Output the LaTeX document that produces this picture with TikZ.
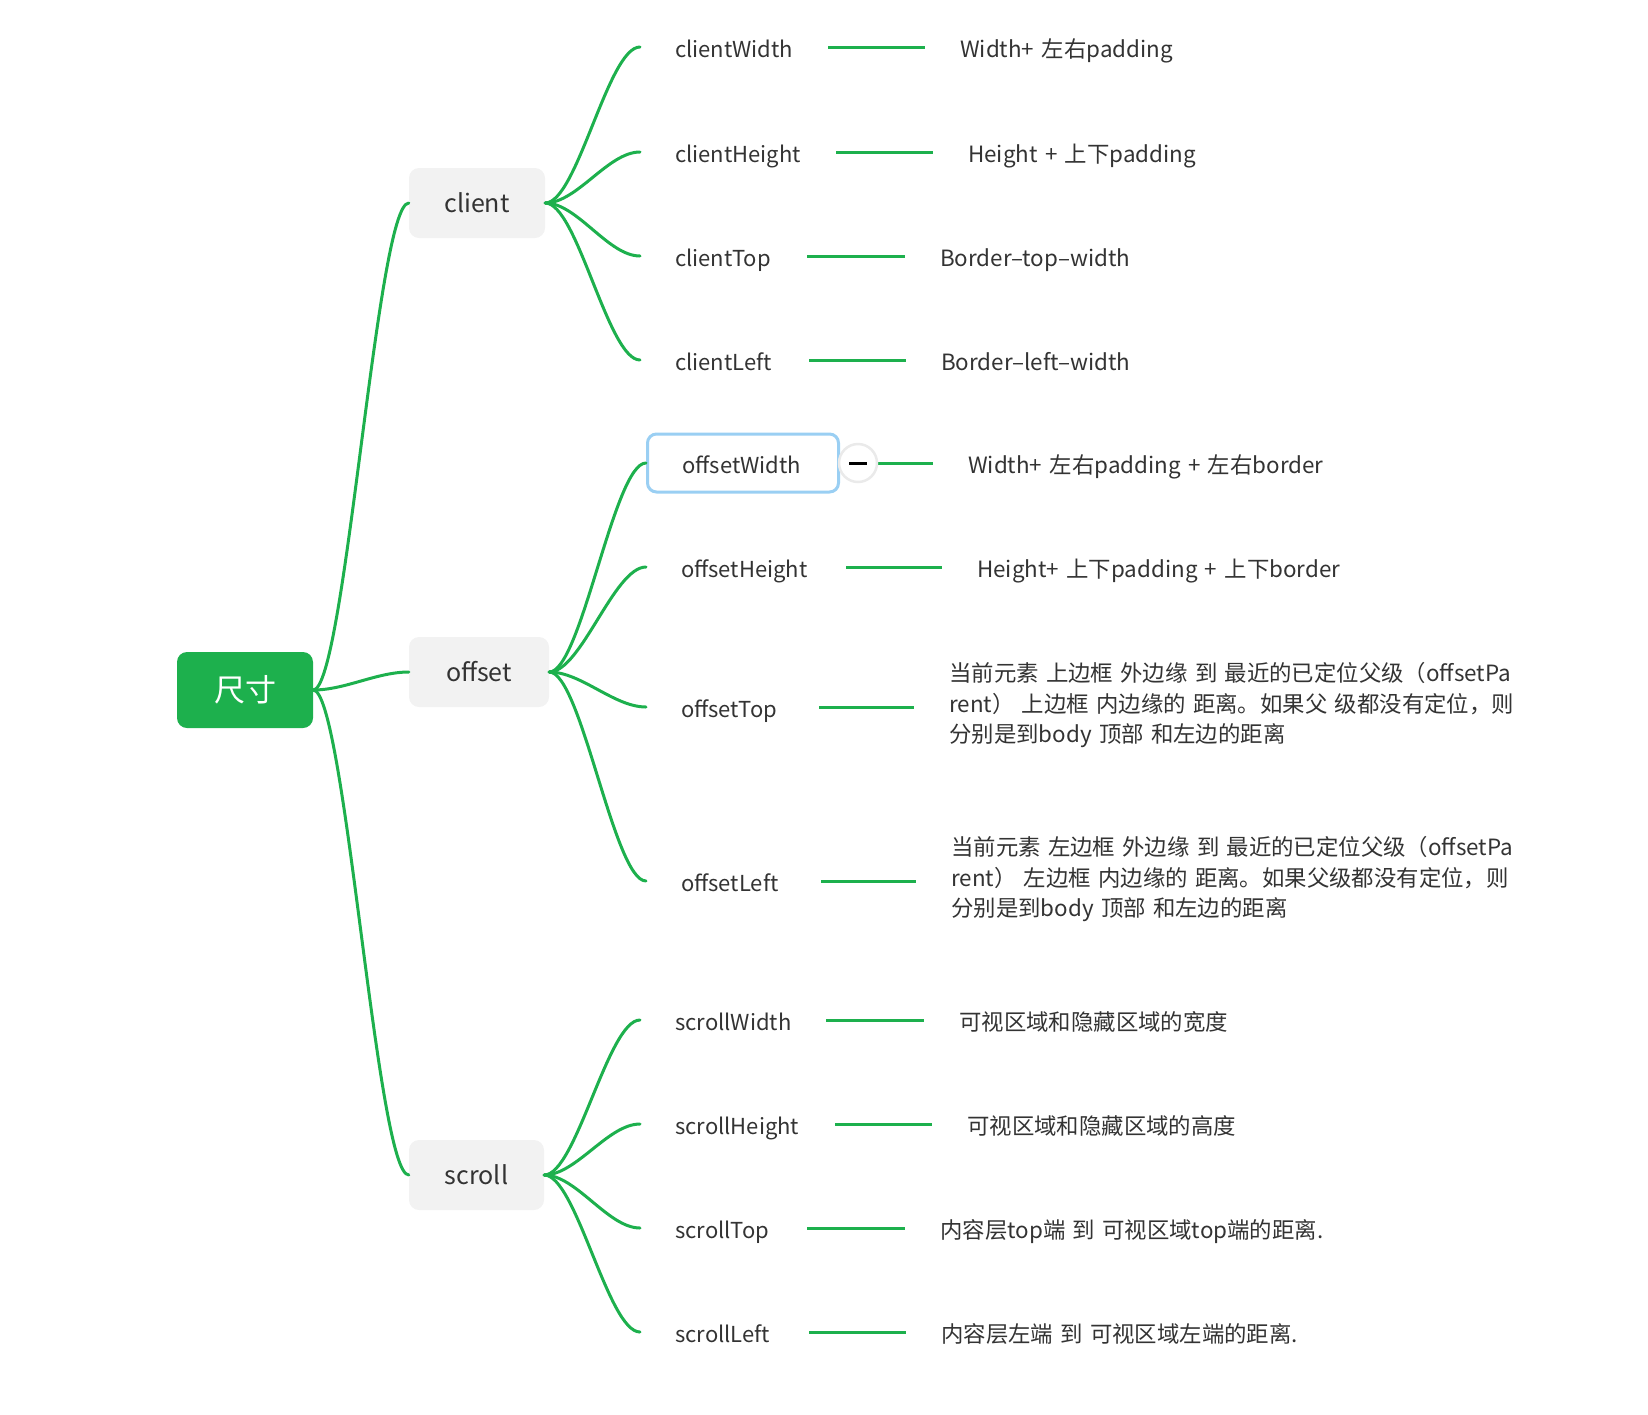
\documentclass[tikz,border=0pt]{standalone}
\usepackage{fontspec}
\setmainfont[WordSpace=1.45]{Noto Sans CJK SC}
\definecolor{mmgreen}{HTML}{1DB04D}
\definecolor{boxgrey}{HTML}{F2F2F2}
\definecolor{txt}{HTML}{333333}
\definecolor{selblue}{HTML}{9ACFF3}
\definecolor{btngrey}{HTML}{EAEAEA}
\tikzset{
  x=1pt, y=-1pt,
  rootbox/.style={fill=mmgreen, rounded corners=10pt, minimum width=136pt, minimum height=76pt,
    text=white, font=\fontsize{31}{36}\selectfont, inner sep=0pt},
  catbox/.style={fill=boxgrey, rounded corners=10pt, minimum height=70pt,
    text=txt, font=\fontsize{25}{30}\selectfont, inner sep=0pt},
  leaf/.style={anchor=west, inner xsep=35pt, inner ysep=0pt, minimum height=30pt, align=left,
    text height=22.5pt, text depth=1.5pt,
    text=txt, font=\fontsize{22}{30.5}\selectfont},
  val/.style={anchor=west, inner xsep=35pt, inner ysep=0pt, align=left,
    text height=22.5pt, text depth=1.5pt,
    text=txt, font=\fontsize{22.4}{30.5}\selectfont},
  multival/.style={anchor=west, inner xsep=35pt, inner ysep=0pt, align=left,
    text=txt, font=\fontsize{22.4}{30.5}\selectfont},
  conn/.style={draw=mmgreen, line width=3pt},
  curv/.style={conn, line cap=round},
}
\newcommand{\mmcurve}[2]{\draw[curv] (#1.east) .. controls +(32,0) and +(-32,0) .. (#2.west);}
\begin{document}
\begin{tikzpicture}
\useasboundingbox (0,0) rectangle (1648,1414);
% root and categories
\node[rootbox] (root) at (245,690) {尺寸};
\node[catbox, minimum width=136pt] (client) at (477,203) {client};
\node[catbox, minimum width=140pt] (offset) at (479,672) {offset};
\node[catbox, minimum width=135pt] (scroll) at (476.5,1175) {scroll};
% client leaves
\node[leaf, text width=118pt] (cw) at (640,47) {clientWidth};
\node[leaf, text width=126pt] (ch) at (640,152) {clientHeight};
\node[leaf, text width=97pt] (ct) at (640,256) {clientTop};
\node[leaf, text width=99pt] (cl) at (640,360) {clientLeft};
% offset leaves
\node[leaf, text width=121pt, draw=selblue, line width=3pt, rounded corners=9pt, minimum height=58pt, fill=white] (ow) at (646,463) {offsetWidth};
\node[leaf, text width=130pt] (oh) at (646,567) {offsetHeight};
\node[leaf, text width=103pt] (ot) at (646,707) {offsetTop};
\node[leaf, text width=105pt] (ol) at (646,881) {offsetLeft};
% scroll leaves
\node[leaf, text width=116pt] (sw) at (640,1020) {scrollWidth};
\node[leaf, text width=125pt] (sh) at (640,1124) {scrollHeight};
\node[leaf, text width=97pt] (st) at (640,1228) {scrollTop};
\node[leaf, text width=99pt] (sl) at (640,1332) {scrollLeft};
% values
\node[val] (vcw) at (925,47) {Width+ 左右padding};
\node[val] (vch) at (933,152) {Height + 上下padding};
\node[val] (vct) at (905,256) {Border–top–width};
\node[val] (vcl) at (906,360) {Border–left–width};
\node[val] (vow) at (933,463) {Width+ 左右padding + 左右border};
\node[val] (voh) at (942,567) {Height+ 上下padding + 上下border};
\node[multival] (vot) at (914,705.5) {当前元素 上边框 外边缘 到 最近的已定位父级（offsetPa\\rent） 上边框 内边缘的 距离。如果父 级都没有定位，则\\分别是到body 顶部 和左边的距离};
\node[multival] (vol) at (916,879.5) {当前元素 左边框 外边缘 到 最近的已定位父级（offsetPa\\rent） 左边框 内边缘的 距离。如果父级都没有定位，则\\分别是到body 顶部 和左边的距离};
\node[val] (vsw) at (924,1020) {可视区域和隐藏区域的宽度};
\node[val] (vsh) at (932,1124) {可视区域和隐藏区域的高度};
\node[val] (vst) at (905,1228) {内容层top端 到 可视区域top端的距离.};
\node[val] (vsl) at (906,1332) {内容层左端 到 可视区域左端的距离.};
% curves
\mmcurve{root}{client}
\mmcurve{root}{offset}
\mmcurve{root}{scroll}
\foreach \c in {cw,ch,ct,cl} {\mmcurve{client}{\c}}
\foreach \c in {ow,oh,ot,ol} {\mmcurve{offset}{\c}}
\foreach \c in {sw,sh,st,sl} {\mmcurve{scroll}{\c}}
% straight links
\foreach \a/\b in {cw/vcw,ch/vch,ct/vct,cl/vcl,ow/vow,oh/voh,sw/vsw,sh/vsh,st/vst,sl/vsl}
  {\draw[conn] (\a.east) -- (\b.west);}
\draw[conn] (ot.east) -- (ot.east -| vot.west);
\draw[conn] (ol.east) -- (ol.east -| vol.west);
% collapse button
\node[circle, draw=btngrey, line width=2.5pt, fill=white, minimum size=38pt, inner sep=0pt] (btn) at (858,463) {};
\draw[line width=3pt] ([xshift=-9pt]btn.center) -- ([xshift=9pt]btn.center);
\end{tikzpicture}
\end{document}
